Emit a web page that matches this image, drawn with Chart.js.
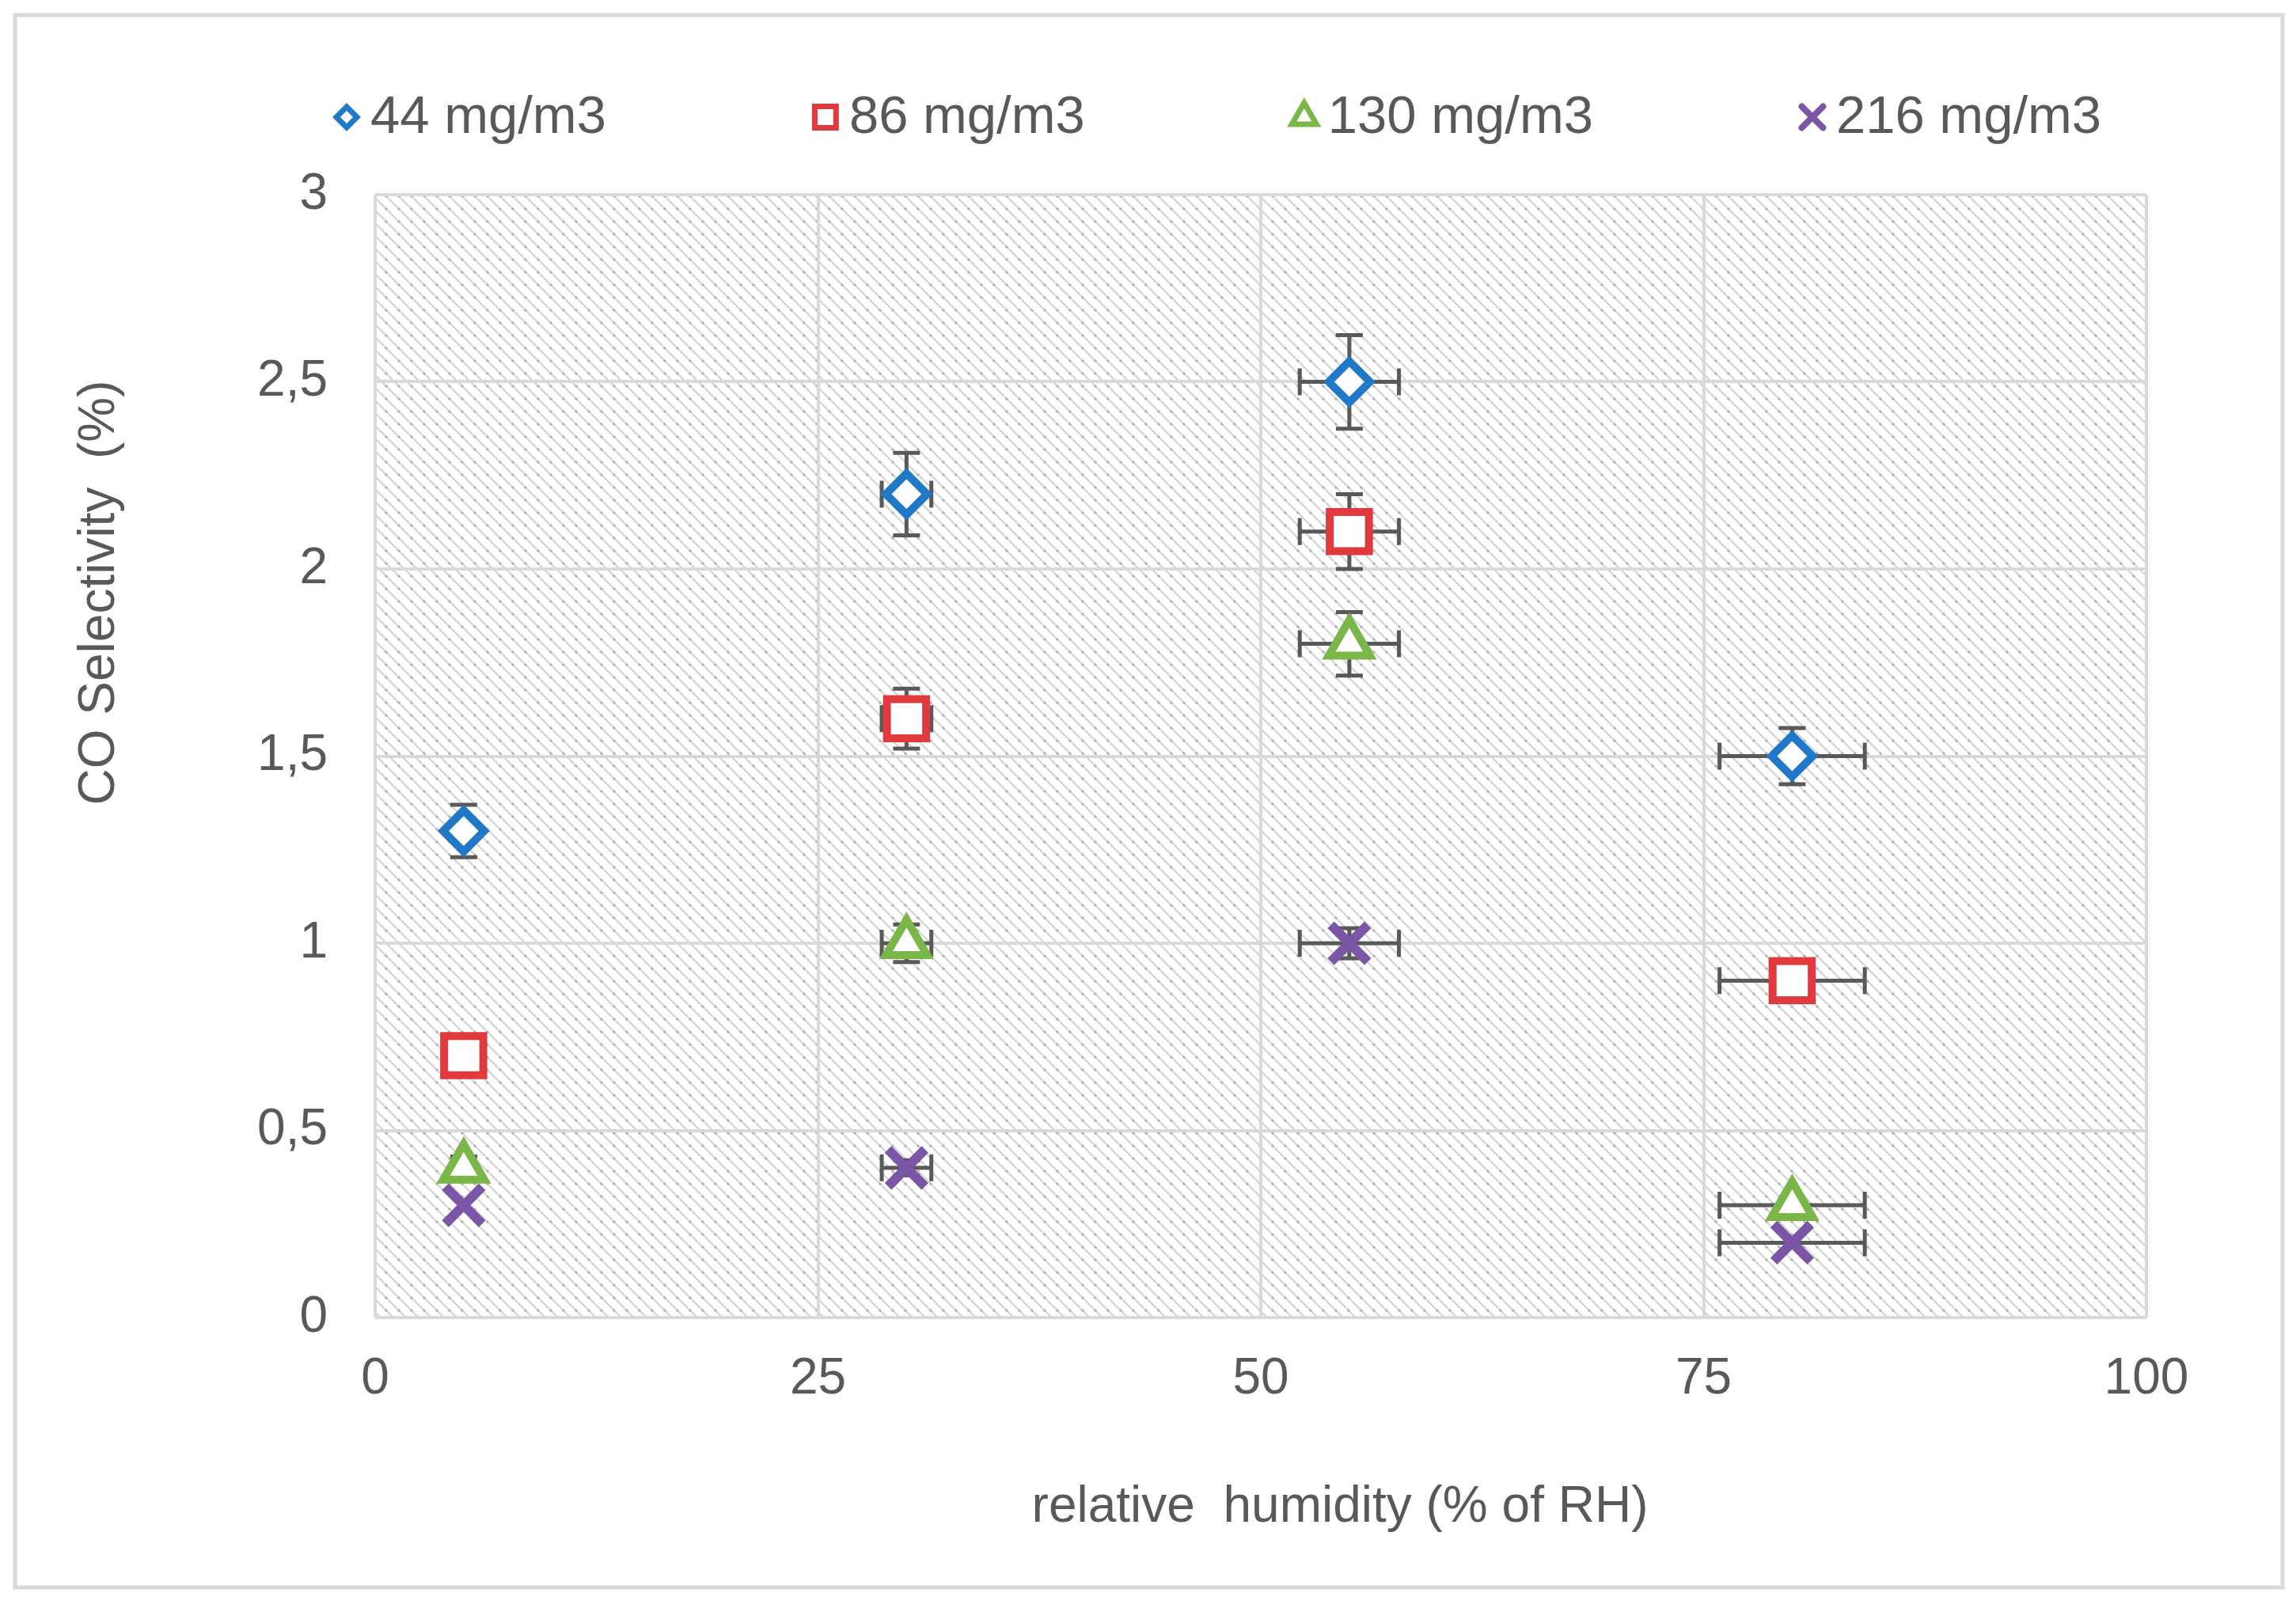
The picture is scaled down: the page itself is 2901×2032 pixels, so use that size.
<!DOCTYPE html>
<html>
<head>
<meta charset="utf-8">
<script src="https://cdn.jsdelivr.net/npm/chart.js@4.4.1/dist/chart.umd.min.js"></script>
<style>
  html, body { margin: 0; padding: 0; background: #fff; }
  #wrap { width: 2901px; height: 2032px; position: relative; }
</style>
</head>
<body>
<div id="wrap"><canvas id="chart"></canvas></div>
<script>
'use strict';

// ─── data ──────────────────────────────────────────────────────
const humidity = [5, 30, 55, 80];
const seriesLabels = ['44 mg/m3', '86 mg/m3', '130 mg/m3', '216 mg/m3'];

const sel44  = [1.3, 2.2, 2.5, 1.5];
const sel86  = [0.7, 1.6, 2.1, 0.9];
const sel130 = [0.4, 1.0, 1.8, 0.3];
const sel216 = [0.3, 0.4, 1.0, 0.2];

// error bars (+/-)
const errY44  = [0.07, 0.11, 0.125, 0.075];
const errY86  = [0, 0.08, 0.1, 0];
const errY130 = [0.03, 0.05, 0.085, 0];
const errY216 = [0, 0.02, 0.04, 0];
const errX    = [0, 1.4, 2.8, 4.1];

const xTicks = [0, 25, 50, 75, 100];
const yTicks = [0, 0.5, 1, 1.5, 2, 2.5, 3];

// ─── style ─────────────────────────────────────────────────────
const FONT_FAMILY = '"Liberation Sans", Arial, sans-serif';
const FONT_SIZE   = 64;
const LEGEND_FONT = 67;
const TEXT_COLOR  = '#595959';
const GRID_COLOR  = '#d9d9d9';
const ERR_COLOR   = '#595959';

const COLORS = ['#1f78c8', '#e03a3e', '#7ab648', '#7b55a6'];

function pts(ys) {
  return humidity.map((x, i) => ({ x, y: ys[i] }));
}

// hatched plot background (wide downward diagonal)
function makeHatch(ctx) {
  const tile = document.createElement('canvas');
  tile.width = 16; tile.height = 16;
  const t = tile.getContext('2d');
  t.fillStyle = '#ffffff';
  t.fillRect(0, 0, 16, 16);
  t.strokeStyle = '#d4d4d4';
  t.lineWidth = 2.2;
  t.beginPath();
  t.moveTo(-2, -2); t.lineTo(18, 18);
  t.moveTo(-2, 14); t.lineTo(2, 18);
  t.moveTo(14, -2); t.lineTo(18, 2);
  t.stroke();
  t.fillStyle = '#ababab';
  t.beginPath(); t.arc(8, 8, 1.6, 0, Math.PI * 2); t.fill();
  return ctx.createPattern(tile, 'repeat');
}

const backgroundPlugin = {
  id: 'sheetBackground',
  beforeDraw(chart) {
    const { ctx, chartArea: a } = chart;
    ctx.save();
    ctx.fillStyle = '#ffffff';
    ctx.fillRect(0, 0, chart.width, chart.height);
    ctx.strokeStyle = GRID_COLOR;
    ctx.lineWidth = 5;
    ctx.strokeRect(19, 19, 2865, 1987);
    ctx.fillStyle = makeHatch(ctx);
    ctx.fillRect(a.left, a.top, a.right - a.left, a.bottom - a.top);
    ctx.restore();
  }
};

// error bars drawn from the scales, under the markers
const errorBarPlugin = {
  id: 'errorBars',
  beforeDatasetsDraw(chart) {
    const { ctx } = chart;
    const xs = chart.scales.x, ys = chart.scales.y;
    const cap = 17;
    ctx.save();
    ctx.strokeStyle = ERR_COLOR;
    ctx.lineWidth = 5;
    chart.data.datasets.forEach(ds => {
      ds.data.forEach((p, i) => {
        const px = xs.getPixelForValue(p.x);
        const py = ys.getPixelForValue(p.y);
        const ey = ds.errY[i], ex = ds.errX[i];
        ctx.beginPath();
        if (ey > 0) {
          const y1 = ys.getPixelForValue(p.y + ey);
          const y2 = ys.getPixelForValue(p.y - ey);
          ctx.moveTo(px, y1); ctx.lineTo(px, y2);
          ctx.moveTo(px - cap, y1); ctx.lineTo(px + cap, y1);
          ctx.moveTo(px - cap, y2); ctx.lineTo(px + cap, y2);
        }
        if (ex > 0) {
          const x1 = xs.getPixelForValue(p.x - ex);
          const x2 = xs.getPixelForValue(p.x + ex);
          ctx.moveTo(x1, py); ctx.lineTo(x2, py);
          ctx.moveTo(x1, py - cap); ctx.lineTo(x1, py + cap);
          ctx.moveTo(x2, py - cap); ctx.lineTo(x2, py + cap);
        }
        ctx.stroke();
      });
    });
    ctx.restore();
  }
};

// legend row + axis titles (placed like the source sheet)
const LEGEND_Y  = 148;
const LEGEND_X0 = 438;
const LEGEND_GAP = 277;

const labelsPlugin = {
  id: 'sheetLabels',
  afterDraw(chart) {
    const { ctx } = chart;
    ctx.save();
    ctx.textBaseline = 'middle';
    ctx.font = LEGEND_FONT + 'px ' + FONT_FAMILY;

    let x = LEGEND_X0;
    chart.data.datasets.forEach(ds => {
      ctx.strokeStyle = ds.borderColor;
      ctx.fillStyle = '#ffffff';
      ctx.lineWidth = ds.legendBorder;
      ctx.lineCap = 'round';
      Chart.helpers.drawPoint(ctx, {
        pointStyle: ds.pointStyle, radius: ds.legendRadius, borderWidth: ds.legendBorder, rotation: 0
      }, x, LEGEND_Y);
      ctx.fillStyle = TEXT_COLOR;
      ctx.textAlign = 'left';
      ctx.fillText(ds.label, x + 30, LEGEND_Y + 2);
      x += 30 + ctx.measureText(ds.label).width + LEGEND_GAP;
    });

    ctx.font = FONT_SIZE + 'px ' + FONT_FAMILY;
    ctx.fillStyle = TEXT_COLOR;
    ctx.textAlign = 'center';
    ctx.fillText('relative  humidity (% of RH)', 1693, 1905);

    ctx.translate(126, 749);
    ctx.rotate(-Math.PI / 2);
    ctx.fillText('CO Selectivity  (%)', 0, 0);
    ctx.restore();
  }
};

const datasets = [
  { label: seriesLabels[0], data: pts(sel44),  errY: errY44,  errX, pointStyle: 'rectRot',  pointRadius: 26, pointBorderWidth: 10, legendRadius: 13, legendBorder: 7 },
  { label: seriesLabels[1], data: pts(sel86),  errY: errY86,  errX, pointStyle: 'rect',     pointRadius: 35, pointBorderWidth: 10, legendRadius: 19, legendBorder: 7 },
  { label: seriesLabels[2], data: pts(sel130), errY: errY130, errX, pointStyle: 'triangle', pointRadius: 30, pointBorderWidth: 10, legendRadius: 18, legendBorder: 7 },
  { label: seriesLabels[3], data: pts(sel216), errY: errY216, errX, pointStyle: 'crossRot', pointRadius: 33, pointBorderWidth: 12, legendRadius: 19, legendBorder: 8 }
].map((ds, i) => Object.assign(ds, {
  borderColor: COLORS[i],
  backgroundColor: '#ffffff',
  pointBorderColor: COLORS[i],
  pointBackgroundColor: '#ffffff',
  pointHoverRadius: ds.pointRadius,
  showLine: false
}));

const tickFont = { family: FONT_FAMILY, size: FONT_SIZE };

new Chart(document.getElementById('chart'), {
  type: 'scatter',
  data: { datasets },
  plugins: [backgroundPlugin, errorBarPlugin, labelsPlugin],
  options: {
    responsive: true,
    maintainAspectRatio: false,
    devicePixelRatio: 1,
    animation: false,
    events: [],
    layout: { padding: { top: 246, left: 300, right: 189, bottom: 247 } },
    plugins: { legend: { display: false }, tooltip: { enabled: false } },
    scales: {
      x: {
        type: 'linear', min: xTicks[0], max: xTicks[xTicks.length - 1],
        afterBuildTicks: s => { s.ticks = xTicks.map(v => ({ value: v })); },
        ticks: { color: TEXT_COLOR, font: tickFont, padding: 40, maxRotation: 0 },
        grid: { color: GRID_COLOR, lineWidth: 4, drawTicks: false },
        border: { display: false },
        afterFit: s => { s.height = 120; }
      },
      y: {
        type: 'linear', min: yTicks[0], max: yTicks[yTicks.length - 1],
        afterBuildTicks: s => { s.ticks = yTicks.map(v => ({ value: v })); },
        ticks: {
          color: TEXT_COLOR, font: tickFont, padding: 60,
          callback: v => String(v).replace('.', ',')
        },
        grid: { color: GRID_COLOR, lineWidth: 4, drawTicks: false },
        border: { display: false },
        afterFit: s => { s.width = 174; }
      }
    }
  }
});
</script>
</body>
</html>
